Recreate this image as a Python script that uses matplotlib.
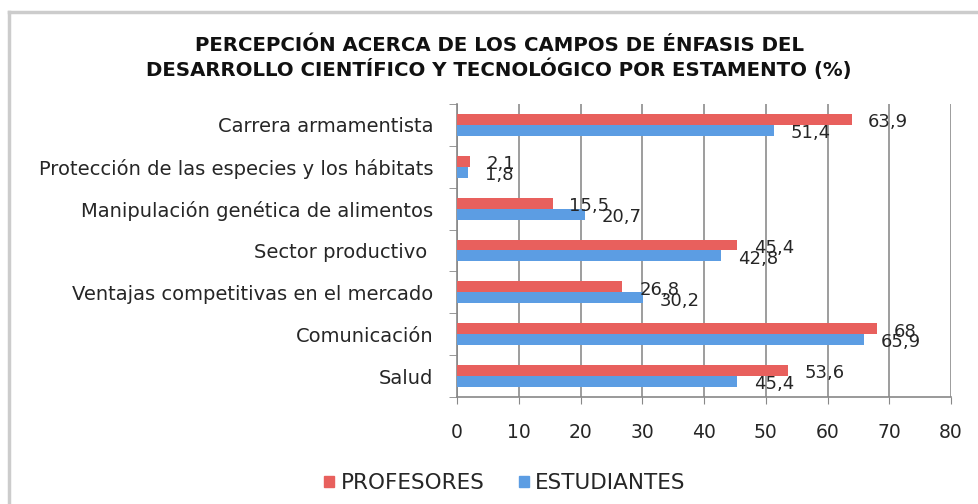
import numpy as np
import matplotlib.pyplot as plt
from matplotlib.lines import Line2D
from matplotlib.patches import Patch

plt.rcParams['font.family'] = ['DejaVu Sans']

categorias = ['Carrera armamentista',
              'Protección de las especies y los hábitats',
              'Manipulación genética de alimentos',
              'Sector productivo ',
              'Ventajas competitivas en el mercado',
              'Comunicación',
              'Salud']
profesores = [63.9, 2.1, 15.5, 45.4, 26.8, 68, 53.6]
estudiantes = [51.4, 1.8, 20.7, 42.8, 30.2, 65.9, 45.4]
xticks = [0, 10, 20, 30, 40, 50, 60, 70, 80]

rojo = '#e8605d'
azul = '#5c9de3'
texto = '#262626'

def fmt(v):
    s = ('%.1f' % v).rstrip('0').rstrip('.')
    return s.replace('.', ',')

fig = plt.figure(figsize=(9.79, 5.04), dpi=100)
ax = fig.add_axes([457/979, 1 - 397/504, (951 - 457)/979, (397 - 104)/504])

y = np.arange(len(categorias))
h = 0.26
b1 = ax.barh(y - h/2, profesores, height=h, color=rojo, zorder=3)
b2 = ax.barh(y + h/2, estudiantes, height=h, color=azul, zorder=3)

for bars, vals in ((b1, profesores), (b2, estudiantes)):
    for bar, v in zip(bars, vals):
        ax.annotate(fmt(v), (v, bar.get_y() + bar.get_height()/2),
                    xytext=(12, -2), textcoords='offset points',
                    ha='left', va='center', fontsize=13, color=texto)

ax.set_xlim(0, 80)
ax.set_ylim(len(categorias) - 0.5, -0.5)
ax.set_xticks(xticks)
ax.set_xticklabels([str(t) for t in xticks], fontsize=13.5, color=texto)
ax.tick_params(axis='x', direction='out', length=5, pad=14, color='#888888')
ax.set_yticks(y)
ax.set_yticklabels(categorias, fontsize=14, color=texto)
ax.set_yticks(np.arange(len(categorias) + 1) - 0.5, minor=True)
ax.tick_params(axis='y', which='major', length=0, pad=17)
ax.tick_params(axis='y', which='minor', direction='out', length=6, color='#888888')

ax.grid(axis='x', color='#8c8c8c', linewidth=1.2, zorder=0)
for s in ['top', 'right']:
    ax.spines[s].set_visible(False)
ax.spines['left'].set_color('#888888')
ax.spines['bottom'].set_color('#888888')
ax.spines['left'].set_linewidth(1.2)
ax.spines['bottom'].set_linewidth(1.2)

fig.text(0.510, 1 - 58/504,
         'PERCEPCIÓN ACERCA DE LOS CAMPOS DE ÉNFASIS DEL\n'
         'DESARROLLO CIENTÍFICO Y TECNOLÓGICO POR ESTAMENTO (%)',
         ha='center', va='center', fontsize=14.2, fontweight='bold',
         linespacing=1.25, color='#111111')

handles = [Patch(color=rojo, label='PROFESORES'), Patch(color=azul, label='ESTUDIANTES')]
fig.legend(handles=handles, loc='center', bbox_to_anchor=(505/979, 1 - 483/504),
           ncol=2, frameon=False, fontsize=15.5, handlelength=0.45, handleheight=0.45,
           handletextpad=0.3, columnspacing=1.6, labelcolor=texto)

# marco exterior
fig.add_artist(Line2D([9/979, 9/979], [0, 1 - 12/504], color='#cccccc', lw=2.5,
                      transform=fig.transFigure))
fig.add_artist(Line2D([9/979, 1], [1 - 12/504, 1 - 12/504], color='#cccccc', lw=2.5,
                      transform=fig.transFigure))

fig.savefig('out.png', dpi=100)
